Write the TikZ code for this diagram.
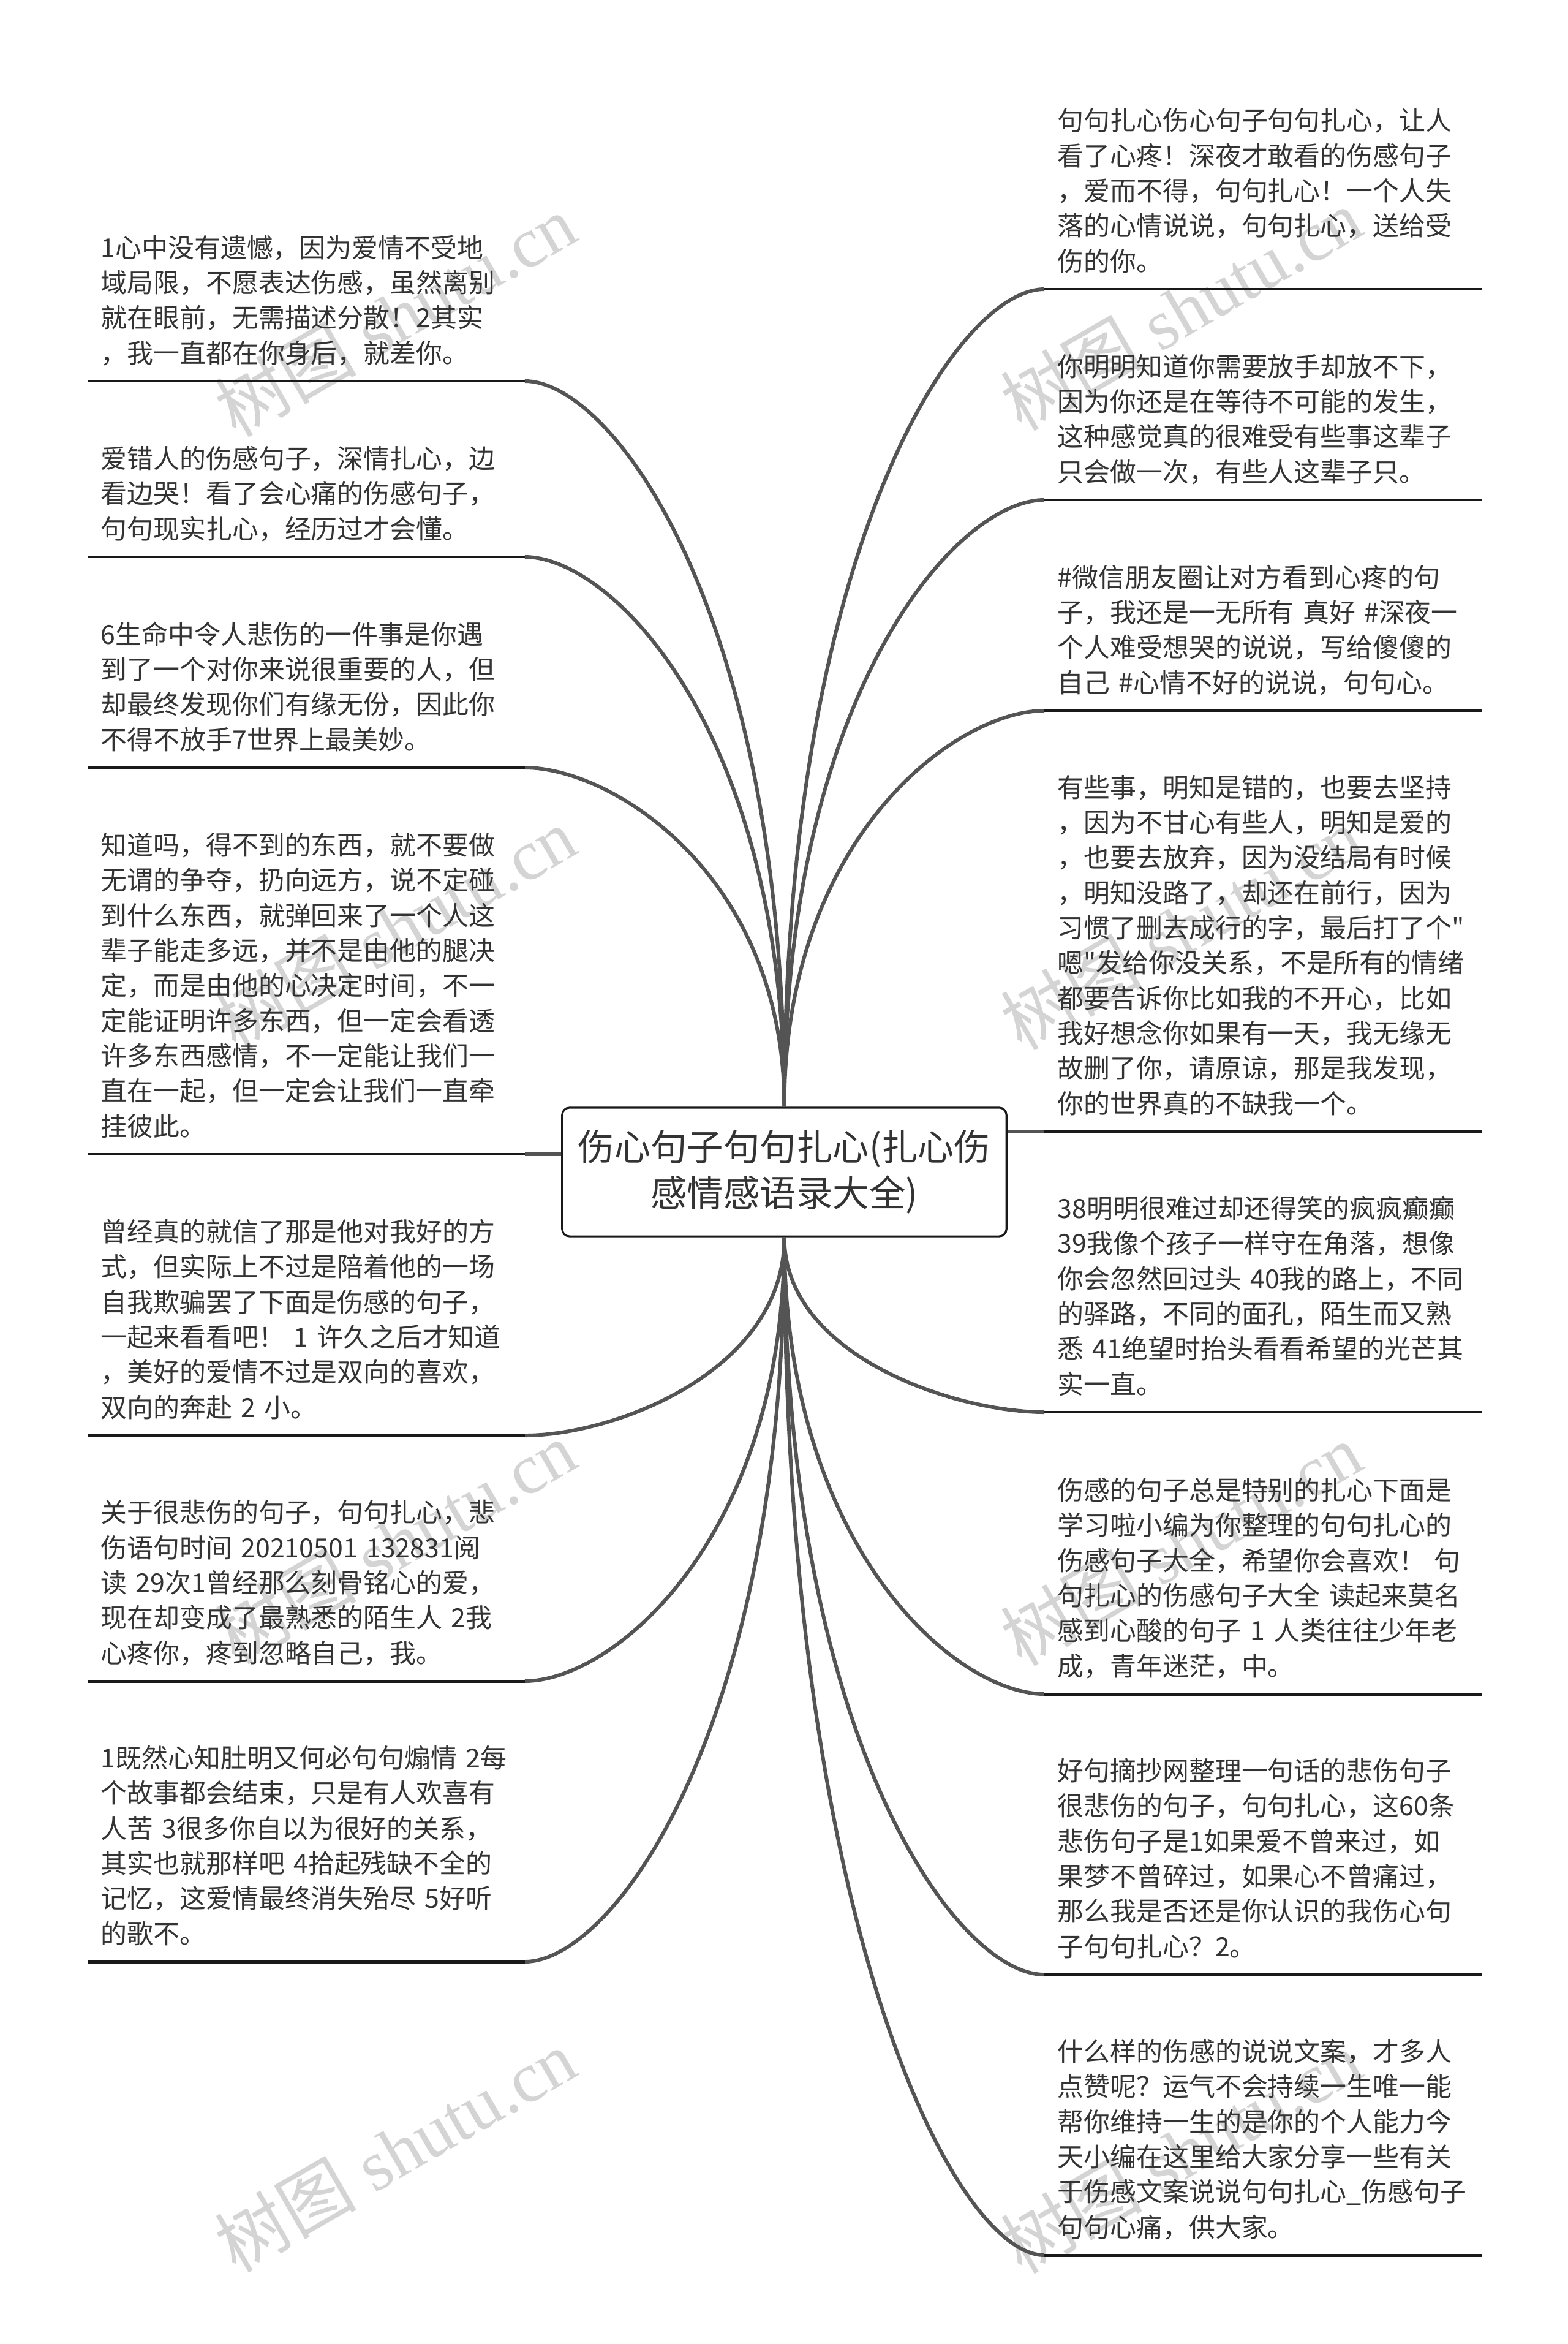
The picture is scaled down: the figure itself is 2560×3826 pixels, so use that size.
\documentclass[tikz,border=0pt]{standalone}
\usepackage{fontspec}
\usepackage{tikz}
\usetikzlibrary{calc}
\newfontfamily\cjk{Noto Sans CJK SC}
\newfontfamily\wmserif{Liberation Serif}

\begin{document}
\begin{tikzpicture}[x=0.01cm,y=-0.01cm,
  leaf/.style={anchor=south west,font=\cjk\fontsize{12.2}{16.3}\selectfont,text=black!80,
    text width=6.7cm,align=left,inner xsep=0.21cm,inner ysep=0.24cm,
    execute at end node={\rule[-0.12em]{0pt}{0.8em}}},
  rootbox/.style={draw=black!90,line width=0.9pt,rounded corners=0.12cm,fill=white,
    font=\cjk\fontsize{16.9}{21.3}\selectfont,text=black!80,align=center,
    minimum width=7.25cm,minimum height=2.1cm},
  branch/.style={draw=black!67,line width=1.7pt},
  uline/.style={draw=black!90,line width=1.4pt},
  wmark/.style={rotate=30,text=black!17,font=\fontsize{33}{36}\selectfont}]
\useasboundingbox[fill=white] (0,0) rectangle (2560,3826);
% watermark
\node[wmark] (wm1) at (645,515) {\cjk 树图\wmserif~shutu.cn};
\node[wmark] (wm2) at (645,1515) {\cjk 树图\wmserif~shutu.cn};
\node[wmark] (wm3) at (645,2517) {\cjk 树图\wmserif~shutu.cn};
\node[wmark] (wm4) at (645,3510) {\cjk 树图\wmserif~shutu.cn};
\node[wmark] (wm5) at (1928,505) {\cjk 树图\wmserif~shutu.cn};
\node[wmark] (wm6) at (1928,1515) {\cjk 树图\wmserif~shutu.cn};
\node[wmark] (wm7) at (1928,2520) {\cjk 树图\wmserif~shutu.cn};
\node[wmark] (wm8) at (1928,3512) {\cjk 树图\wmserif~shutu.cn};
% left side
\node[leaf] (l1) at (143,622) {1心中没有遗憾，因为爱情不受地\\域局限，不愿表达伤感，虽然离别\\就在眼前，无需描述分散！2其实\\，我一直都在你身后，就差你。};
\node[leaf] (l2) at (143,909) {爱错人的伤感句子，深情扎心，边\\看边哭！看了会心痛的伤感句子，\\句句现实扎心，经历过才会懂。};
\node[leaf] (l3) at (143,1253) {6生命中令人悲伤的一件事是你遇\\到了一个对你来说很重要的人，但\\却最终发现你们有缘无份，因此你\\不得不放手7世界上最美妙。};
\node[leaf] (l4) at (143,1884) {知道吗，得不到的东西，就不要做\\无谓的争夺，扔向远方，说不定碰\\到什么东西，就弹回来了一个人这\\辈子能走多远，并不是由他的腿决\\定，而是由他的心决定时间，不一\\定能证明许多东西，但一定会看透\\许多东西感情，不一定能让我们一\\直在一起，但一定会让我们一直牵\\挂彼此。};
\node[leaf] (l5) at (143,2343) {曾经真的就信了那是他对我好的方\\式，但实际上不过是陪着他的一场\\自我欺骗罢了下面是伤感的句子，\\一起来看看吧！~1~许久之后才知道\\，美好的爱情不过是双向的喜欢，\\双向的奔赴~2~小。};
\node[leaf] (l6) at (143,2744) {关于很悲伤的句子，句句扎心，悲\\伤语句时间~20210501~132831阅\\读~29次1曾经那么刻骨铭心的爱，\\现在却变成了最熟悉的陌生人~2我\\心疼你，疼到忽略自己，我。};
\node[leaf] (l7) at (143,3202) {1既然心知肚明又何必句句煽情~2每\\个故事都会结束，只是有人欢喜有\\人苦~3很多你自以为很好的关系，\\其实也就那样吧~4拾起残缺不全的\\记忆，这爱情最终消失殆尽~5好听\\的歌不。};
% right side
\node[leaf] (r1) at (1705,472) {句句扎心伤心句子句句扎心，让人\\看了心疼！深夜才敢看的伤感句子\\，爱而不得，句句扎心！一个人失\\落的心情说说，句句扎心，送给受\\伤的你。};
\node[leaf] (r2) at (1705,816) {你明明知道你需要放手却放不下，\\因为你还是在等待不可能的发生，\\这种感觉真的很难受有些事这辈子\\只会做一次，有些人这辈子只。};
\node[leaf] (r3) at (1705,1160) {\#微信朋友圈让对方看到心疼的句\\子，我还是一无所有~真好~\#深夜一\\个人难受想哭的说说，写给傻傻的\\自己~\#心情不好的说说，句句心。};
\node[leaf] (r4) at (1705,1847) {有些事，明知是错的，也要去坚持\\，因为不甘心有些人，明知是爱的\\，也要去放弃，因为没结局有时候\\，明知没路了，却还在前行，因为\\习惯了删去成行的字，最后打了个"\\嗯"发给你没关系，不是所有的情绪\\都要告诉你比如我的不开心，比如\\我好想念你如果有一天，我无缘无\\故删了你，请原谅，那是我发现，\\你的世界真的不缺我一个。};
\node[leaf] (r5) at (1705,2305) {38明明很难过却还得笑的疯疯癫癫\\39我像个孩子一样守在角落，想像\\你会忽然回过头~40我的路上，不同\\的驿路，不同的面孔，陌生而又熟\\悉~41绝望时抬头看看希望的光芒其\\实一直。};
\node[leaf] (r6) at (1705,2765) {伤感的句子总是特别的扎心下面是\\学习啦小编为你整理的句句扎心的\\伤感句子大全，希望你会喜欢！~句\\句扎心的伤感句子大全~读起来莫名\\感到心酸的句子~1~人类往往少年老\\成，青年迷茫，中。};
\node[leaf] (r7) at (1705,3223) {好句摘抄网整理一句话的悲伤句子\\很悲伤的句子，句句扎心，这60条\\悲伤句子是1如果爱不曾来过，如\\果梦不曾碎过，如果心不曾痛过，\\那么我是否还是你认识的我伤心句\\子句句扎心？2。};
\node[leaf] (r8) at (1705,3681) {什么样的伤感的说说文案，才多人\\点赞呢？运气不会持续一生唯一能\\帮你维持一生的是你的个人能力今\\天小编在这里给大家分享一些有关\\于伤感文案说说句句扎心\_伤感句子\\句句心痛，供大家。};
% root
\node[rootbox] (root) at (1280.5,1913) {伤心句子句句扎心(扎心伤\\感情感语录大全)};
% branches
\foreach \n/\a/\e in {l1/north/south east,l2/north/south east,l3/north/south east,
    l5/south/south east,l6/south/south east,l7/south/south east,
    r1/north/south west,r2/north/south west,r3/north/south west,
    r5/south/south west,r6/south/south west,r7/south/south west,r8/south/south west}
  \draw[branch] (root.\a) .. controls ($(root.\a)!0.68!(root.\a|-\n.\e)$)
    and ($(\n.\e)!0.34!(root.\a|-\n.\e)$) .. (\n.\e);
\draw[branch] (root.west|-l4.south east) -- (l4.south east);
\draw[branch] (root.east|-r4.south west) -- (r4.south west);
\foreach \n in {l1,l2,l3,l4,l5,l6,l7,r1,r2,r3,r4,r5,r6,r7,r8}
  \draw[uline] (\n.south west) -- (\n.south east);
\end{tikzpicture}
\end{document}
